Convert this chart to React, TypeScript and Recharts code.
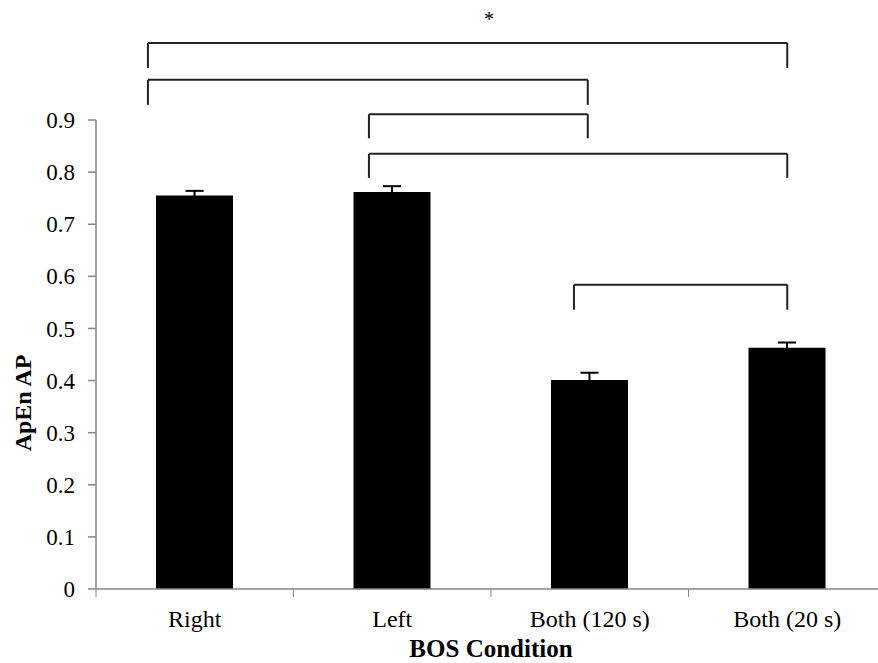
import {
  BarChart,
  Bar,
  XAxis,
  YAxis,
  ErrorBar,
  ReferenceLine,
  ReferenceDot,
} from 'recharts';

// BOS condition vs ApEn AP (means with SE)
const categories = ['Right', 'Left', 'Both (120 s)', 'Both (20 s)'];
const apenMeans = [0.755, 0.762, 0.401, 0.463];
const apenErrors = [0.009, 0.011, 0.014, 0.01];
const yTicks = [0, 0.1, 0.2, 0.3, 0.4, 0.5, 0.6, 0.7, 0.8, 0.9];

// significance brackets: x in category units (0..4), y in ApEn units
const brackets = [
  { from: 0.263, to: 3.5, top: 1.048, foot: 1.0 },
  { from: 0.263, to: 2.49, top: 0.977, foot: 0.929 },
  { from: 1.382, to: 2.49, top: 0.911, foot: 0.865 },
  { from: 1.382, to: 3.5, top: 0.835, foot: 0.789 },
  { from: 2.42, to: 3.5, top: 0.584, foot: 0.536 },
];
const star = { x: 1.99, y: 1.094 };

const FONT = '"Liberation Serif", "Times New Roman", serif';
const AXIS_GRAY = '#868686';

const data = categories.map((name, i) => ({
  name,
  pos: i + 0.5,
  value: apenMeans[i],
  err: apenErrors[i],
}));

// boundary ticks (marks) and category centres (labels)
const xTicks = [
  ...categories.map((_, i) => i),
  categories.length,
  ...categories.map((_, i) => i + 0.5),
].sort((a, b) => a - b);

function XTick(props: any) {
  const { x, y, payload } = props;
  const v = payload.value as number;
  if (Number.isInteger(v)) {
    return <line x1={x} y1={y} x2={x} y2={y + 8} stroke={AXIS_GRAY} strokeWidth={1} />;
  }
  return (
    <text x={x} y={y + 38} textAnchor="middle" fontFamily={FONT} fontSize={24} fill="#000">
      {categories[Math.floor(v)]}
    </text>
  );
}

function YTitle(props: any) {
  const { viewBox } = props;
  const x = viewBox.x + 31;
  const y = viewBox.y + 283;
  return (
    <text
      x={x}
      y={y}
      transform={`rotate(-90, ${x}, ${y})`}
      textAnchor="middle"
      fontFamily={FONT}
      fontWeight="bold"
      fontSize={24}
      fill="#000"
    >
      ApEn AP
    </text>
  );
}

export default function App() {
  return (
    <div style={{ position: 'absolute', left: 0, top: 0, width: 878, height: 663, overflow: 'hidden', background: '#fff' }}>
      <BarChart
        width={886}
        height={663}
        data={data}
        margin={{ top: 120, right: 0, left: 0, bottom: 0 }}
      >
        <XAxis
          dataKey="pos"
          type="number"
          domain={[0, 4]}
          ticks={xTicks}
          interval={0}
          tick={<XTick />}
          tickLine={false}
          tickSize={0}
          tickMargin={0}
          axisLine={{ stroke: AXIS_GRAY, strokeWidth: 1.5 }}
          height={74}
          label={{
            value: 'BOS Condition',
            position: 'insideBottom',
            offset: 6,
            fontFamily: FONT,
            fontWeight: 'bold',
            fontSize: 25,
            fill: '#000',
          }}
        />
        <YAxis
          type="number"
          domain={[0, 0.9]}
          ticks={yTicks}
          interval={0}
          width={96}
          tickSize={8}
          tickMargin={13}
          tickFormatter={(v: number) => (v === 0 ? '0' : v.toFixed(1))}
          tick={{ fontFamily: FONT, fontSize: 23, fill: '#000' }}
          tickLine={{ stroke: AXIS_GRAY, strokeWidth: 1.5 }}
          axisLine={{ stroke: AXIS_GRAY, strokeWidth: 1.5 }}
          label={<YTitle />}
        />
        <Bar dataKey="value" fill="#000" barSize={77} isAnimationActive={false}>
          <ErrorBar dataKey="err" direction="y" width={9} stroke="#000" strokeWidth={2} isAnimationActive={false} />
        </Bar>
        {brackets.map((b, i) => [
          <ReferenceLine
            key={`h-${i}`}
            segment={[{ x: b.from, y: b.top }, { x: b.to, y: b.top }]}
            stroke="#222"
            strokeWidth={2}
            ifOverflow="visible"
          />,
          <ReferenceLine
            key={`l-${i}`}
            segment={[{ x: b.from, y: b.top }, { x: b.from, y: b.foot }]}
            stroke="#222"
            strokeWidth={2}
            ifOverflow="visible"
          />,
          <ReferenceLine
            key={`r-${i}`}
            segment={[{ x: b.to, y: b.top }, { x: b.to, y: b.foot }]}
            stroke="#222"
            strokeWidth={2}
            ifOverflow="visible"
          />,
        ])}
        <ReferenceDot
          x={star.x}
          y={star.y}
          r={0}
          fill="none"
          stroke="none"
          ifOverflow="visible"
          label={{ value: '*', position: 'center', fontFamily: FONT, fontSize: 20, fill: '#000' }}
        />
      </BarChart>
    </div>
  );
}
